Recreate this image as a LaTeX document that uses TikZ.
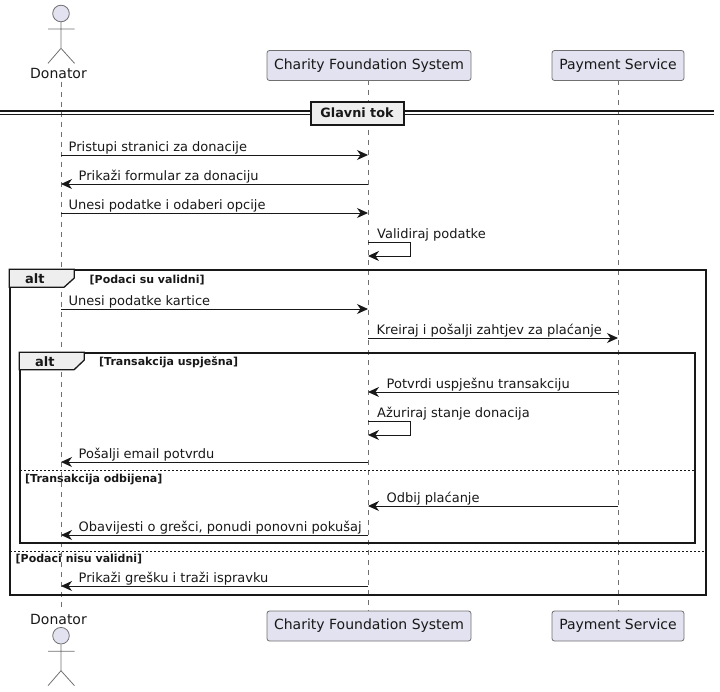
\documentclass[tikz,border=0pt]{standalone}
\usepackage{fontspec}
\setmainfont{DejaVu Sans}
\usetikzlibrary{arrows.meta,positioning,calc}
\definecolor{partfill}{HTML}{E2E2F0}
\definecolor{tabfill}{HTML}{EEEEEE}
\definecolor{inkdark}{HTML}{181818}
\definecolor{partline}{HTML}{707070}

\begin{document}
\begin{tikzpicture}[x=1pt, y=-1pt, every node/.style={font=\fontsize{13}{15}\selectfont, text=inkdark}]
\tikzset{part/.style={draw=partline, line width=0.8pt, rounded corners=2.5pt, fill=partfill, minimum height=30pt, inner sep=0pt, font=\fontsize{14}{16}\selectfont}}
\tikzset{actorlabel/.style={inner sep=0pt, anchor=base, font=\fontsize{14}{16}\selectfont}}
\tikzset{actorline/.style={draw=partline, line width=0.8pt}}
\tikzset{life/.style={draw=partline, line width=0.7pt, dash pattern=on 5pt off 5pt}}
\tikzset{msg/.style={-{Stealth[length=11pt, width=10pt, inset=3.5pt]}, draw=inkdark, line width=0.9pt}}
\tikzset{msgtext/.style={inner sep=0pt, anchor=base west}}
\tikzset{frame/.style={draw=inkdark, line width=1.7pt}}
\tikzset{tab/.style={draw=inkdark, line width=1.3pt, fill=tabfill}}
\tikzset{guard/.style={inner sep=0pt, anchor=base west, font=\fontsize{11}{13}\selectfont\bfseries}}
\tikzset{alttext/.style={inner sep=0pt, anchor=base west, font=\fontsize{13}{15}\selectfont\bfseries}}
\tikzset{altsplit/.style={draw=inkdark, line width=0.8pt, dash pattern=on 2pt off 2pt}}
\useasboundingbox (0,0) rectangle (720,691);

% participants
\node[actorlabel] (don) at (58.5,78) {Donator};
\node[actorlabel] (donb) at (58.5,624.7) {Donator};
\node[part, minimum width=204pt] (sys) at (369,65.5) {Charity Foundation System};
\node[part, minimum width=132pt] (pay) at (618,65.5) {Payment Service};
\node[part, minimum width=204pt] (sysb) at (369,626) {Charity Foundation System};
\node[part, minimum width=132pt] (payb) at (618,626) {Payment Service};

% lifelines
\coordinate (dontop) at (61,82);
\coordinate (donend) at (61,608);
\coordinate (systop) at (368,80);
\coordinate (sysend) at (368,611);
\coordinate (paytop) at (618,80);
\coordinate (payend) at (618,611);
\draw[life] (dontop) -- (donend);
\draw[life] (systop) -- (sysend);
\draw[life] (paytop) -- (payend);

% actors
\node[circle, actorline, fill=partfill, minimum size=16.6pt, inner sep=0pt] (head) at (61,13.5) {};
\node[circle, actorline, fill=partfill, minimum size=16.6pt, inner sep=0pt] (headb) at (61,635.7) {};
\draw[actorline] (head.south) -- (61,48.3) -- (48,63.3) (61,48.3) -- (74.5,63.3) (48,29) -- (74.5,29);
\draw[actorline] (headb.south) -- (61,670.7) -- (48,685.7) (61,670.7) -- (74.5,685.7) (48,651.2) -- (74.5,651.2);

% section divider
\node[draw=inkdark, line width=2pt, fill=tabfill, minimum width=93pt, minimum height=23pt, inner sep=0pt, font=\fontsize{12.8}{15}\selectfont\bfseries] (sec) at (357,113) {Glavni tok\hspace{6pt}};
\coordinate (secl) at (0,111);
\coordinate (secr) at (714,111);
\coordinate (secll) at (0,114.7);
\coordinate (secrr) at (714,114.7);
\draw[draw=inkdark, line width=1.2pt] (secl) -- (sec.west |- secl) (sec.east |- secr) -- (secr);
\draw[draw=inkdark, line width=1.2pt] (secll) -- (sec.west |- secll) (sec.east |- secrr) -- (secrr);

% alt frames
\node[frame, minimum width=696pt, minimum height=325pt, inner sep=0pt] (outer) at (358,432.5) {};
\node[frame, minimum width=675pt, minimum height=190pt, inner sep=0pt] (inner) at (357.5,448) {};
\draw[tab] (outer.north west) -- ++(65,0) -- ++(0,9) -- ++(-10,9) -- ++(-55,0) -- cycle;
\draw[tab] (inner.north west) -- ++(65,0) -- ++(0,8) -- ++(-10,9.5) -- ++(-55,0) -- cycle;
\node[alttext] (alta) at (25,283.5) {alt};
\node[guard] (gvalid) at (89.5,283) {[Podaci su validni]};
\node[alttext] (altb) at (35,366) {alt};
\node[guard] (gok) at (99,365.5) {[Transakcija uspješna]};
\coordinate (splitil) at (20,470);
\coordinate (splitir) at (695,470);
\coordinate (splitol) at (10,551);
\coordinate (splitor) at (706,551);
\draw[altsplit] (splitil) -- (splitir);
\draw[altsplit] (splitol) -- (splitor);
\node[guard] (gden) at (25,482.5) {[Transakcija odbijena]};
\node[guard] (gnot) at (15.5,562.5) {[Podaci nisu validni]};

% message rows
\foreach \n/\y in {1/155,2/184,3/213,4/309,5/338,6/392,7/462,8/506,9/535,10/586} {
  \coordinate (d\n) at (61,\y);
  \coordinate (s\n) at (368,\y);
  \coordinate (p\n) at (618,\y);
}
\foreach \n/\y in {1/242,2/421} {
  \coordinate (loopa\n) at (368,\y);
  \coordinate (loopb\n) at (410,\y);
  \coordinate (loopc\n) at (410,\y+14);
  \coordinate (loopd\n) at (368,\y+14);
}

\draw[msg] (d1) -- (s1);
\node[msgtext] (m1) at ([shift={(7.5,-4)}]d1) {Pristupi stranici za donacije};
\draw[msg] (s2) -- (d2);
\node[msgtext] (m2) at ([shift={(17.5,-4)}]d2) {Prikaži formular za donaciju};
\draw[msg] (d3) -- (s3);
\node[msgtext] (m3) at ([shift={(7.5,-4)}]d3) {Unesi podatke i odaberi opcije};
\draw[msg] (loopa1) -- (loopb1) -- (loopc1) -- (loopd1);
\node[msgtext] (m4) at ([shift={(9,-4)}]loopa1) {Validiraj podatke};
\draw[msg] (d4) -- (s4);
\node[msgtext] (m5) at ([shift={(7.5,-4)}]d4) {Unesi podatke kartice};
\draw[msg] (s5) -- (p5);
\node[msgtext] (m6) at ([shift={(8.5,-4)}]s5) {Kreiraj i pošalji zahtjev za plaćanje};
\draw[msg] (p6) -- (s6);
\node[msgtext] (m7) at ([shift={(18.5,-4)}]s6) {Potvrdi uspješnu transakciju};
\draw[msg] (loopa2) -- (loopb2) -- (loopc2) -- (loopd2);
\node[msgtext] (m8) at ([shift={(9,-4)}]loopa2) {Ažuriraj stanje donacija};
\draw[msg] (s7) -- (d7);
\node[msgtext] (m9) at ([shift={(17.5,-4)}]d7) {Pošalji email potvrdu};
\draw[msg] (p8) -- (s8);
\node[msgtext] (m10) at ([shift={(18.5,-4)}]s8) {Odbij plaćanje};
\draw[msg] (s9) -- (d9);
\node[msgtext] (m11) at ([shift={(17.5,-4)}]d9) {Obavijesti o grešci, ponudi ponovni pokušaj};
\draw[msg] (s10) -- (d10);
\node[msgtext] (m12) at ([shift={(17.5,-4)}]d10) {Prikaži grešku i traži ispravku};
\end{tikzpicture}
\end{document}
